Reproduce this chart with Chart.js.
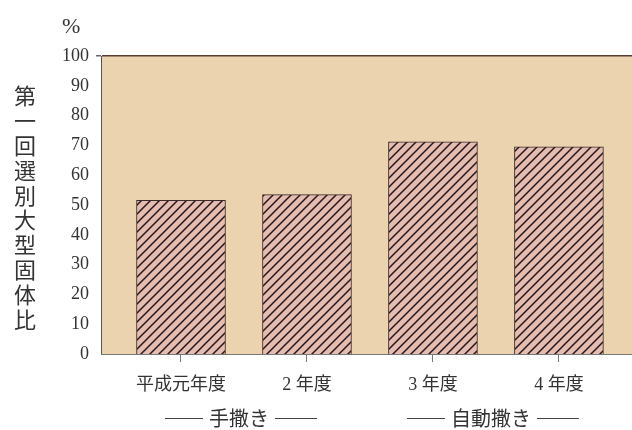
<!DOCTYPE html>
<html>
<head>
<meta charset="utf-8">
<script src="https://cdn.jsdelivr.net/npm/chart.js@4"></script>
<style>
  html, body { margin: 0; padding: 0; background: #fff; }
  #wrap { width: 632px; height: 430px; }
</style>
</head>
<body>
<div id="wrap"><canvas id="myChart" width="632" height="430"></canvas></div>
<script>
const categories = ['平成元年度', '2 年度', '3 年度', '4 年度'];
const values = [51.6, 53.5, 71.2, 69.5];
const groups = ['手撒き', '自動撒き'];
const yTitle = '第一回選別大型固体比';

const serif = "'Liberation Serif', 'DejaVu Serif', 'Noto Sans CJK JP', serif";

// hatch pattern for the bars
const tile = document.createElement('canvas');
tile.width = 9;
tile.height = 9;
const tctx = tile.getContext('2d');
tctx.fillStyle = '#e5bcb0';
tctx.fillRect(0, 0, 9, 9);
tctx.strokeStyle = '#24161a';
tctx.lineWidth = 1.5;
tctx.beginPath();
tctx.moveTo(-1, 10); tctx.lineTo(10, -1);
tctx.moveTo(-1, 1); tctx.lineTo(1, -1);
tctx.moveTo(8, 10); tctx.lineTo(10, 8);
tctx.stroke();
const hatch = tctx.createPattern(tile, 'repeat');

const bgPlugin = {
  id: 'bg',
  beforeDraw(chart) {
    const { ctx, chartArea: a } = chart;
    ctx.save();
    ctx.fillStyle = '#ecd3b0';
    ctx.fillRect(a.left, a.top, a.right - a.left, a.bottom - a.top);
    ctx.restore();
  },
  afterDraw(chart) {
    const { ctx, scales } = chart;
    ctx.save();
    ctx.fillStyle = '#333';
    // unit
    ctx.font = '22px ' + serif;
    ctx.textAlign = 'left';
    ctx.textBaseline = 'middle';
    ctx.fillText('%', 62, 27);
    // vertical title
    ctx.font = "22px 'Noto Sans CJK JP', sans-serif";
    ctx.textAlign = 'center';
    [...yTitle].forEach((ch, i) => ctx.fillText(ch, 25, 96 + i * 24.8));
    // group labels
    ctx.font = "20px 'Noto Sans CJK JP', sans-serif";
    ctx.strokeStyle = '#444';
    ctx.lineWidth = 1;
    const y = 418;
    groups.forEach((g, i) => {
      const cx = (scales.x.getPixelForValue(i * 2) + scales.x.getPixelForValue(i * 2 + 1)) / 2 - 5;
      const w = ctx.measureText(g).width;
      ctx.fillText(g, cx, y);
      ctx.beginPath();
      ctx.moveTo(cx - w / 2 - 44, y + 0.5); ctx.lineTo(cx - w / 2 - 6, y + 0.5);
      ctx.moveTo(cx + w / 2 + 6, y + 0.5); ctx.lineTo(cx + w / 2 + 48, y + 0.5);
      ctx.stroke();
    });
    ctx.restore();
  }
};

const ctx = document.getElementById('myChart').getContext('2d');
const chart = new Chart(ctx, {
  type: 'bar',
  data: {
    datasets: [{
      data: values.map((v, i) => ({ x: i, y: v })),
      backgroundColor: hatch,
      borderColor: '#3a2a2a',
      borderWidth: 1,
      barThickness: 89
    }]
  },
  options: {
    responsive: false,
    animation: false,
    layout: { padding: { top: 56, right: 0, bottom: 0, left: 0 } },
    plugins: { legend: { display: false }, tooltip: { enabled: false } },
    scales: {
      x: {
        type: 'linear',
        offset: false,
        min: -0.635,
        max: 3.58,
        afterBuildTicks: s => { s.ticks = categories.map((c, i) => ({ value: i })); },
        afterFit: s => { s.height = 76; },
        border: { color: '#777', width: 1 },
        grid: { offset: false, drawOnChartArea: false, tickLength: 8, color: '#777' },
        ticks: {
          callback: v => categories[v],
          font: { family: serif, size: 18 },
          color: '#333',
          padding: 12,
          maxRotation: 0,
          autoSkip: false
        }
      },
      y: {
        min: 0,
        max: 100,
        afterFit: s => { s.width = 101; },
        border: { color: '#555', width: 1 },
        grid: {
          color: c => c.tick && c.tick.value === 100 ? '#5a3b30' : 'rgba(0,0,0,0)',
          lineWidth: c => c.tick && c.tick.value === 100 ? 1.5 : 0,
          tickColor: '#666',
          tickLength: 5
        },
        ticks: {
          stepSize: 10,
          font: { family: serif, size: 18 },
          color: '#333',
          padding: 7
        }
      }
    }
  },
  plugins: [bgPlugin]
});
</script>
</body>
</html>
